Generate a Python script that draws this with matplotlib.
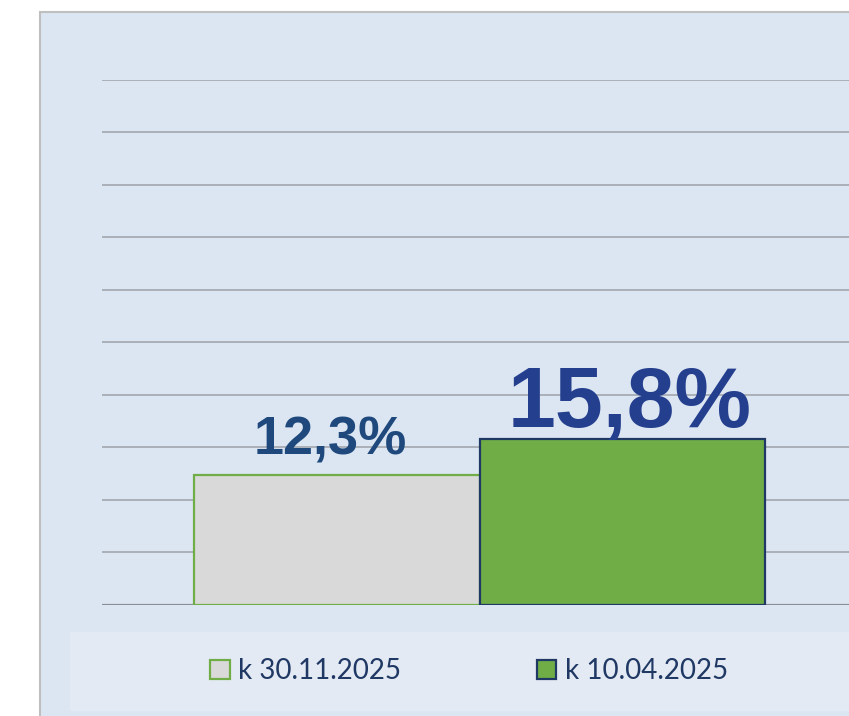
import matplotlib.pyplot as plt
from matplotlib.patches import Rectangle

# data
labels = ["k 30.11.2025", "k 10.04.2025"]
values = [12.3, 15.8]
face_colors = ["#d9d9d9", "#70ad47"]
edge_colors = ["#70ad47", "#1f3864"]
label_colors = ["#1f497d", "#253f8f"]
label_sizes = [39, 62]
label_offsets = [(-5, 15), (5, 8.5)]   # points

W, H = 849, 716
fig = plt.figure(figsize=(W / 100, H / 100), dpi=100)
fig.patch.set_facecolor("white")

# chart panel and legend band (drawn on a background axes)
bg = fig.add_axes([0, 0, 1, 1], zorder=-1)
bg.set_xlim(0, W)
bg.set_ylim(H, 0)
bg.axis("off")
bg.add_patch(Rectangle((40, 12), W, H, facecolor="#dce6f2",
                       edgecolor="#bfbfbf", lw=1.5))
bg.add_patch(Rectangle((70, 632), W, 79, facecolor="#e4eaf3", edgecolor="none"))

ax = fig.add_axes([102 / W, (716 - 604.5) / H, (849 - 102) / W, (604.5 - 80) / H])
ax.set_facecolor("none")
x = [0, 1]
bars = ax.bar(x, values, width=1.0, color=face_colors, edgecolor=edge_colors,
              linewidth=1.6, zorder=3)
ax.set_xlim(-0.5 - 92 / 285.5, 1.5 + 84 / 285.5)
ax.set_ylim(0, 50)
ax.set_yticks(range(0, 51, 5))
ax.grid(axis="y", color="#a6abb3", lw=1.3, zorder=1)
ax.tick_params(left=False, bottom=False, labelleft=False, labelbottom=False)
for s in ax.spines.values():
    s.set_visible(False)
ax.axhline(0, color="#8c9096", lw=1.6, zorder=2)

for xi, v, c, fs, off in zip(x, values, label_colors, label_sizes, label_offsets):
    txt = f"{v:.1f}".replace(".", ",") + "%"
    ax.annotate(txt, (xi, v), xytext=off, textcoords="offset points",
                ha="center", va="baseline", fontsize=fs, fontweight="bold",
                color=c, family="Liberation Sans", zorder=4)

leg = fig.legend(bars, labels, loc="center", bbox_to_anchor=(469 / W, 1 - 671 / H),
                 ncol=2, frameon=False, handlelength=0.7, handleheight=0.7,
                 handletextpad=0.3, columnspacing=4.9,
                 prop={"family": "Lato", "size": 20})
for t in leg.get_texts():
    t.set_color("#1f3864")

fig.savefig("out.png", dpi=100)
